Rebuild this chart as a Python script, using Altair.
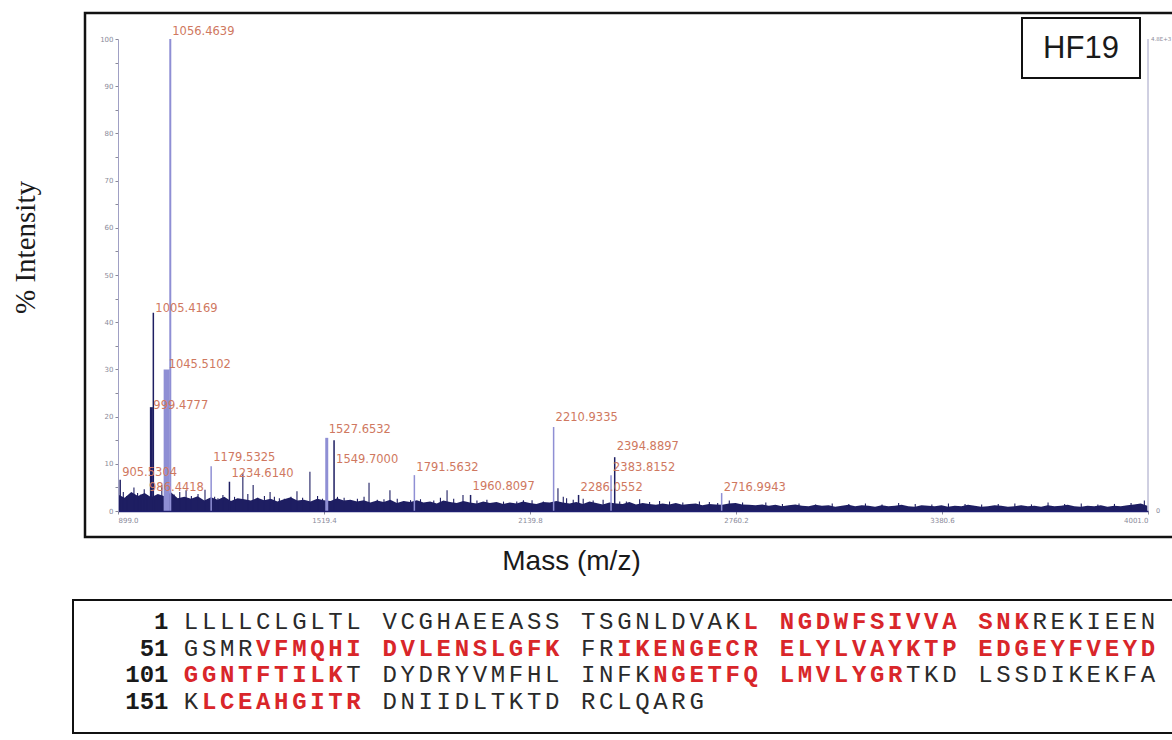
import altair as alt
import pandas as pd

# ---------------- data ----------------
# labelled peaks: m/z, % intensity of the peak, intensity at which its label sits
peak_mass = [905.5304, 986.4418, 999.4777, 1005.4169, 1045.5102, 1056.4639,
             1179.5325, 1234.6140, 1527.6532, 1549.7000, 1791.5632, 1960.8097,
             2210.9335, 2286.0552, 2383.8152, 2394.8897, 2716.9943]
peak_int = [6.6, 3.4, 22.0, 42.0, 30.0, 100.0,
            9.5, 6.2, 15.5, 15.0, 7.6, 3.4,
            17.8, 3.4, 7.6, 11.4, 3.8]
label_int = [7.4, 4.2, 21.6, 42.2, 30.3, 100.8,
             10.6, 7.2, 16.5, 10.2, 8.5, 4.4,
             19.0, 4.2, 8.5, 12.9, 4.2]
peak_shade = ["dark", "dark", "dark", "dark", "light", "light",
              "light", "dark", "light", "dark", "light", "dark",
              "light", "dark", "light", "dark", "light"]
peak_width = [1.5, 1.5, 3.0, 1.5, 6.0, 2.0,
              1.5, 1.5, 3.0, 1.5, 1.5, 1.5,
              1.5, 1.5, 1.5, 1.5, 1.5]

# unlabelled minor peaks
minor_mass = [947, 968, 1031, 1104, 1161, 1200, 1275, 1306, 1357, 1385, 1438, 1477,
              1560, 1600, 1655, 1700, 1718, 1760, 1825, 1870, 1890, 1938, 2060, 2146,
              2224, 2250, 2410, 2470, 2560, 2705, 2850, 3050, 3250, 3450, 3700, 3990,
              915, 925, 958, 978, 1015, 1068, 1085, 1120, 1140, 1190, 1215, 1250,
              1290, 1320, 1340, 1370, 1400, 1420, 1455, 1500, 1515, 1580, 1620, 1640,
              1680, 1740, 1780, 1810, 1850, 1910, 1980, 2010, 2100, 2120, 2180, 2240,
              2270, 2300, 2330, 2360, 2430, 2500, 2530, 2600, 2650, 2680, 2740, 2780,
              2900, 2950, 3000, 3100, 3150, 3200, 3300, 3350, 3400, 3500, 3550, 3600,
              3650, 3750, 3800, 3850, 3900, 3950]
minor_int = [5.0, 3.5, 5.5, 4.4, 4.5, 2.7, 8.0, 5.5, 4.0, 2.7, 4.2, 8.3,
             3.0, 2.3, 6.0, 2.5, 4.4, 2.0, 1.5, 2.8, 4.4, 3.4, 2.0, 2.3,
             4.8, 2.7, 2.0, 2.5, 2.0, 1.7, 1.8, 1.6, 1.7, 1.5, 1.8, 2.2,
             4.0, 3.2, 3.8, 4.6, 3.0, 3.5, 4.0, 3.2, 3.6, 3.0, 3.4, 3.0,
             3.6, 2.8, 3.2, 3.0, 2.6, 3.0, 2.8, 3.2, 2.6, 2.8, 2.6, 3.0,
             2.4, 2.6, 2.3, 2.5, 2.2, 2.6, 2.2, 2.4, 2.0, 2.3, 2.0, 3.0,
             2.4, 2.6, 2.2, 2.4, 2.0, 1.9, 2.1, 1.8, 2.0, 1.9, 2.2, 1.8,
             1.5, 1.6, 1.4, 1.5, 1.6, 1.4, 1.5, 1.4, 1.6, 1.4, 1.5, 1.6,
             1.4, 1.5, 1.6, 1.4, 1.5, 1.7]

# baseline noise, one value every 20 Da from 899 Da
noise_start = 899.0
noise_step = 20.0
noise_int = [3.5, 2.8, 4.0, 3.2, 3.8, 2.9, 3.6, 3.1, 3.9, 2.7, 3.0,
             2.6, 3.1, 2.2, 2.9, 2.4, 3.0, 2.1, 2.7, 2.5, 2.2, 2.8, 2.3, 2.6, 2.0, 2.5,
             2.9, 2.2, 2.4, 2.0, 2.6, 2.3, 2.1, 2.7, 2.2, 2.4,
             2.0, 2.3, 1.8, 2.2, 1.9, 2.4, 1.7, 2.1, 1.9, 2.3, 1.8, 2.0, 1.6, 2.2, 1.9,
             1.7, 2.1, 1.8, 1.6, 2.0, 1.7, 1.9, 1.5, 1.8, 1.6, 2.0, 1.7, 1.5, 1.9, 1.8,
             2.1, 1.8, 1.6, 1.9, 1.5, 2.0, 1.7, 1.4, 1.8, 1.6, 1.5, 1.9, 1.4, 1.7, 1.5,
             1.3, 1.6, 1.4, 1.7, 1.3, 1.5, 1.6, 1.2, 1.5, 1.4, 1.3, 1.6, 1.7, 1.4, 1.3,
             1.2, 1.4, 1.1, 1.3, 1.0, 1.2, 1.4, 1.1, 1.0, 1.3, 1.1, 1.2, 0.9, 1.1, 1.3,
             1.0, 1.2, 1.1, 0.9, 1.2, 1.0, 1.1, 1.3, 1.0, 0.9, 1.2, 1.1, 1.0, 1.2, 0.9,
             1.1, 1.0, 1.3, 1.1, 0.9, 1.0, 1.2, 1.1, 0.9, 1.0, 1.2, 1.0, 1.1, 0.9, 1.2,
             1.0, 1.1, 1.3, 1.0, 0.9, 1.1, 1.0, 1.2, 0.9, 1.1, 1.0, 1.2, 1.4, 1.6, 1.1]

x_ticks = [899.0, 1519.4, 2139.8, 2760.2, 3380.6, 4001.0]
y_ticks = [0, 5, 10, 15, 20, 25, 30, 35, 40, 45, 50, 55, 60, 65, 70, 75, 80, 85, 90, 95, 100]
right_axis_top = "4.8E+3"

seq_numbers = ["1", "51", "101", "151"]
seq_rows = [
    "LLLLCLGLTL VCGHAEEASS TSGNLDVAKL NGDWFSIVVA SNKREKIEEN",
    "GSMRVFMQHI DVLENSLGFK FRIKENGECR ELYLVAYKTP EDGEYFVEYD",
    "GGNTFTILKT DYDRYVMFHL INFKNGETFQ LMVLYGRTKD LSSDIKEKFA",
    "KLCEAHGITR DNIIDLTKTD RCLQARG",
]
seq_marks = [
    "0000000000 0000000000 0000000001 1111111111 1110000000",
    "0000111111 1111111111 0011111111 1111111111 1111111111",
    "1111111110 0000000000 0000111111 1111111000 0000000000",
    "0111111111 0000000000 0000000",
]

# ---------------- tables ----------------
peaks = pd.DataFrame({"mass": peak_mass, "inten": peak_int, "lab": label_int,
                      "shade": peak_shade, "w": peak_width,
                      "label": [f"{m:.4f}" for m in peak_mass]})
minor = pd.DataFrame({"mass": minor_mass, "inten": minor_int})
noise = pd.DataFrame({"mass": [noise_start + i * noise_step for i in range(len(noise_int))],
                      "inten": noise_int})
right_axis = pd.DataFrame({"mass": [x_ticks[-1]], "inten": [100.0], "zero": [0.0],
                           "top": [right_axis_top], "bot": ["0"]})

chars = []
for r, (row, mk) in enumerate(zip(seq_rows, seq_marks)):
    for c, (ch, m) in enumerate(zip(row, mk)):
        if ch != " ":
            chars.append({"row": r, "col": c + 0.5, "ch": ch, "red": m == "1"})
chars = pd.DataFrame(chars)
nums = pd.DataFrame({"row": list(range(len(seq_numbers))), "col": [-0.75] * len(seq_numbers),
                     "ch": seq_numbers})

# ---------------- encodings ----------------
DARK = "#1e1e62"
LIGHT = "#8f8fd4"
LABEL = "#cf7860"
AXIS_GRAY = "#8a8a9a"

xscale = alt.Scale(domain=[899.0, 4001.0], nice=False, zero=False)
yscale = alt.Scale(domain=[0, 100], nice=False)
xaxis = alt.Axis(values=x_ticks, format=".1f", title="Mass (m/z)", grid=False, zindex=1,
                 domainColor="#1e1e70", domainWidth=1.5, tickColor=AXIS_GRAY, tickSize=3,
                 labelFontSize=7, labelColor=AXIS_GRAY, labelPadding=2, labelFont="DejaVu Sans",
                 titleFont="Liberation Sans", titleFontSize=28, titleFontWeight="normal",
                 titleColor="#1a1a1a", titleX=453, titleY=58, titleAlign="center",
                 titleBaseline="alphabetic")
yaxis = alt.Axis(values=y_ticks, title="% Intensity", grid=False, zindex=1,
                 labelExpr="datum.value % 10 == 0 ? datum.label : ''",
                 domainColor="#a0a0c4", domainWidth=1, tickColor=AXIS_GRAY, tickSize=3,
                 labelFontSize=7, labelColor=AXIS_GRAY, labelPadding=2, labelFont="DejaVu Sans",
                 titleFont="Liberation Serif", titleFontSize=29, titleFontWeight="normal",
                 titleColor="#1a1a1a", titleX=-93, titleY=208, titleAngle=-90,
                 titleAlign="center", titleBaseline="middle")


def X(field="mass"):
    return alt.X(f"{field}:Q", scale=xscale, axis=xaxis)


def Y(field="inten"):
    return alt.Y(f"{field}:Q", scale=yscale, axis=yaxis)


one = pd.DataFrame({"a": [0]})

outer_box = alt.Chart(one).mark_rect(fill="transparent", stroke="#111111", strokeWidth=2.5).encode(
    x=alt.value(-33), x2=alt.value(1080), y=alt.value(-26), y2=alt.value(498))
noise_area = alt.Chart(noise).mark_area(color=DARK, interpolate="linear").encode(x=X(), y=Y())
minor_rules = alt.Chart(minor).mark_rule(color=DARK, strokeWidth=1.1).encode(
    x=X(), y=Y(), y2=alt.datum(0))
peak_rules = alt.Chart(peaks).mark_rule().encode(
    x=X(), y=Y(), y2=alt.datum(0),
    color=alt.Color("shade:N", scale=alt.Scale(domain=["dark", "light"], range=[DARK, LIGHT]),
                    legend=None),
    strokeWidth=alt.StrokeWidth("w:Q", scale=None, legend=None))
peak_labels = alt.Chart(peaks).mark_text(align="left", baseline="alphabetic", dx=2,
                                         fontSize=11.5, font="DejaVu Sans", color=LABEL).encode(
    x=X(), y=Y("lab"), text="label:N")
right_rule = alt.Chart(right_axis).mark_rule(color="#a0a0c4", strokeWidth=1).encode(
    x=X(), y=Y(), y2=alt.datum(0))
right_top = alt.Chart(right_axis).mark_text(align="left", baseline="middle", dx=3, fontSize=5.5,
                                            font="DejaVu Sans", color=AXIS_GRAY).encode(
    x=X(), y=Y(), text="top:N")
right_bot = alt.Chart(right_axis).mark_text(align="left", baseline="middle", dx=8, fontSize=6.5,
                                            font="DejaVu Sans", color=AXIS_GRAY).encode(
    x=X(), y=Y("zero"), text="bot:N")
hf_box = alt.Chart(one).mark_rect(fill="white", stroke="#111111", strokeWidth=2).encode(
    x=alt.value(904), x2=alt.value(1022), y=alt.value(-21), y2=alt.value(39))
hf_text = alt.Chart(one).mark_text(text="HF19", font="Liberation Sans", fontSize=31,
                                   color="#1a1a1a", align="center", baseline="alphabetic").encode(
    x=alt.value(963), y=alt.value(19))
seq_box = alt.Chart(one).mark_rect(fill="transparent", stroke="#111111", strokeWidth=2).encode(
    x=alt.value(-45), x2=alt.value(1080), y=alt.value(561), y2=alt.value(694))

spectrum = alt.layer(outer_box, seq_box, noise_area, minor_rules, peak_rules, right_rule,
                     peak_labels, right_top, right_bot, hf_box, hf_text)

SEQ_FONT = "Liberation Mono"
sx = alt.X("col:Q", scale=alt.Scale(domain=[0, 54], range=[64, 1039]), axis=None)
sy = alt.Y("row:Q", scale=alt.Scale(domain=[0, 3], range=[583, 662.5]), axis=None)
seq_plain = alt.Chart(chars).transform_filter("!datum.red").mark_text(
    font=SEQ_FONT, fontSize=24, color="#2a2a2a", align="center", baseline="middle").encode(
    x=sx, y=sy, text="ch:N")
seq_red = alt.Chart(chars).transform_filter("datum.red").mark_text(
    font=SEQ_FONT, fontSize=24, fontWeight="bold", color="#d9262a", align="center",
    baseline="middle").encode(x=sx, y=sy, text="ch:N")
seq_nums = alt.Chart(nums).mark_text(
    font=SEQ_FONT, fontSize=24, fontWeight="bold", color="#1a1a1a", align="right",
    baseline="middle").encode(x=sx, y=sy, text="ch:N")
sequence = alt.layer(seq_plain, seq_red, seq_nums)

chart = alt.layer(spectrum, sequence).resolve_scale(x="independent", y="independent").properties(
    width=1030, height=472,
    padding={"left": 118, "top": 39, "right": 24, "bottom": 229},
    autosize=alt.AutoSizeParams(type="none"),
    background="white",
).configure_view(stroke=None)

chart.save("out.html", embed_options={"renderer": "svg", "actions": False})
